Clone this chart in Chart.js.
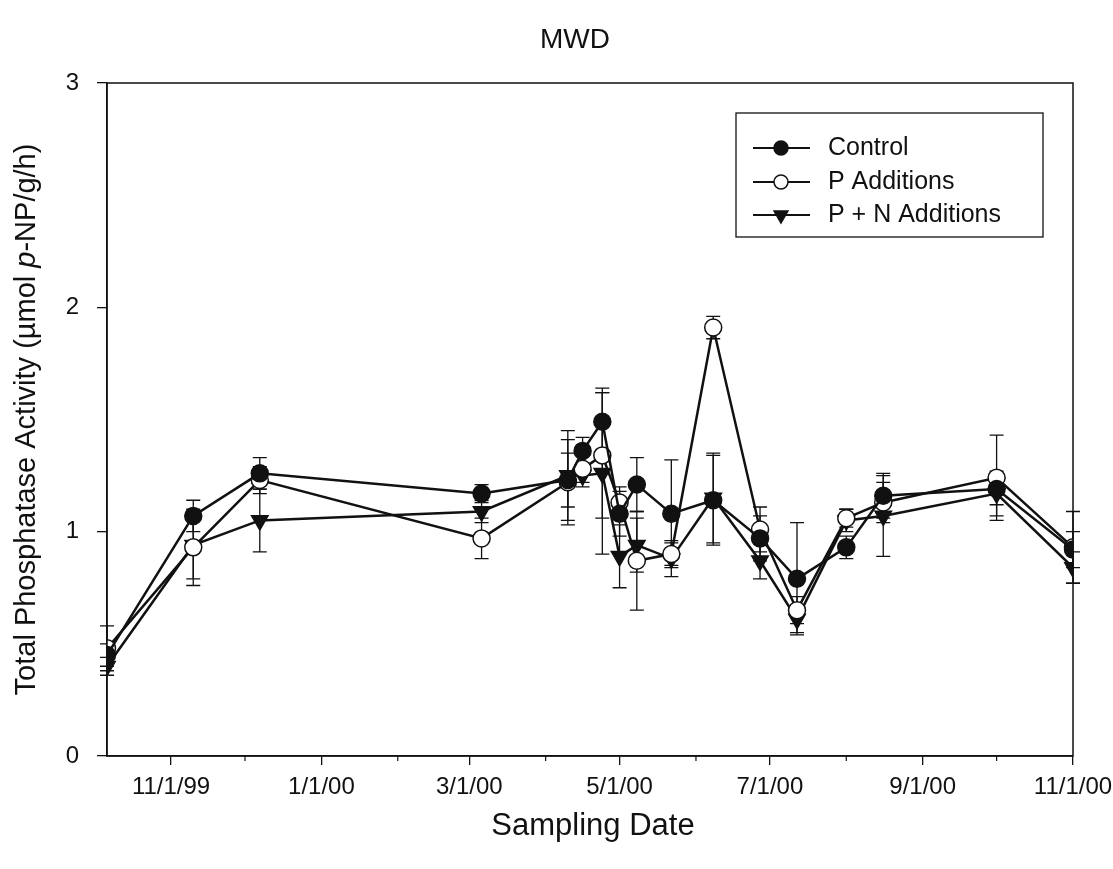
<!DOCTYPE html>
<html>
<head>
<meta charset="utf-8">
<script src="https://cdn.jsdelivr.net/npm/chart.js@4.4.0/dist/chart.umd.min.js"></script>
<style>
    html, body { margin: 0; padding: 0; background: #ffffff; }
    #contenedor { width: 1113px; height: 869px; }
</style>
</head>
<body>
<div id="contenedor"><canvas id="grafico" width="1113" height="869"></canvas></div>
<script>
// ================== DATOS ==================

const fechas = [
    "1999-10-06", "1999-11-10", "1999-12-07", "2000-03-06", "2000-04-10", "2000-04-16",
    "2000-04-24", "2000-05-01", "2000-05-08", "2000-05-22", "2000-06-08", "2000-06-27",
    "2000-07-12", "2000-08-01", "2000-08-16", "2000-10-01", "2000-11-01"
];

const control     = [0.45, 1.07, 1.26, 1.17, 1.23, 1.36, 1.49, 1.08, 1.21, 1.08, 1.14, 0.97, 0.79, 0.93, 1.16, 1.19, 0.92];
const pAdiciones  = [0.48, 0.93, 1.23, 0.97, 1.22, 1.28, 1.34, 1.13, 0.87, 0.90, 1.91, 1.01, 0.65, 1.06, 1.13, 1.24, 0.93];
const pnAdiciones = [0.40, 0.94, 1.05, 1.09, 1.25, 1.25, 1.26, 0.89, 0.94, 0.88, 1.15, 0.87, 0.61, 1.05, 1.07, 1.17, 0.84];

// errores estandar (barras)
const errControl = [0.05, 0.07, 0.07, 0.04, 0.12, 0.06, 0.15, 0.10, 0.12, 0.24, 0.20, 0.10, 0.25, 0.05, 0.10, 0.07, 0.08];
const errP       = [0.10, 0.17, 0.06, 0.09, 0.19, 0.06, 0.28, 0.07, 0.22, 0.05, 0.05, 0.10, 0.06, 0.04, 0.09, 0.19, 0.16];
const errPN      = [0.04, 0.15, 0.14, 0.05, 0.20, 0.05, 0.36, 0.14, 0.12, 0.08, 0.20, 0.08, 0.06, 0.05, 0.18, 0.10, 0.07];

const ticksX = ["1999-11-01", "2000-01-01", "2000-03-01", "2000-05-01", "2000-07-01", "2000-09-01", "2000-11-01"];
const ticksMenoresX = ["1999-12-01", "2000-02-01", "2000-04-01", "2000-06-01", "2000-08-01", "2000-10-01"];
const ticksY = [0, 1, 2, 3];

const series = ["Control", "P Additions", "P + N Additions"];

// ================== UTILIDADES ==================

const FUENTE = "'Liberation Sans', Arial, sans-serif";

function dia(s) {
    const [a, m, d] = s.split("-").map(Number);
    return Date.UTC(a, m - 1, d) / 86400000;
}

function etiquetaFecha(v) {
    const f = new Date(Math.round(v) * 86400000);
    return (f.getUTCMonth() + 1) + "/" + f.getUTCDate() + "/" + String(f.getUTCFullYear()).slice(2);
}

const puntos = arr => arr.map((v, i) => ({ x: dia(fechas[i]), y: v }));

// ================== PLUGINS ==================

const barrasError = {
    id: "barrasError",
    beforeDatasetsDraw(chart) {
        const { ctx, scales: { x, y } } = chart;
        const grupos = [[control, errControl], [pAdiciones, errP], [pnAdiciones, errPN]];
        ctx.save();
        ctx.strokeStyle = "#111";
        ctx.lineWidth = 1.3;
        grupos.forEach(([vals, errs]) => {
            vals.forEach((v, i) => {
                const px = x.getPixelForValue(dia(fechas[i]));
                const y1 = y.getPixelForValue(v + errs[i]);
                const y2 = y.getPixelForValue(v - errs[i]);
                ctx.beginPath();
                ctx.moveTo(px, y1); ctx.lineTo(px, y2);
                ctx.moveTo(px - 7, y1); ctx.lineTo(px + 7, y1);
                ctx.moveTo(px - 7, y2); ctx.lineTo(px + 7, y2);
                ctx.stroke();
            });
        });
        ctx.restore();
    }
};

const marcoYTextos = {
    id: "marcoYTextos",
    afterDraw(chart) {
        const { ctx, chartArea: a, scales: { x } } = chart;
        ctx.save();
        // marco
        ctx.strokeStyle = "#111";
        ctx.lineWidth = 1.5;
        ctx.strokeRect(a.left, a.top, a.right - a.left, a.bottom - a.top);

        // ticks menores eje x
        ctx.lineWidth = 1.2;
        ticksMenoresX.forEach(s => {
            const px = x.getPixelForValue(dia(s));
            ctx.beginPath();
            ctx.moveTo(px, a.bottom);
            ctx.lineTo(px, a.bottom + 5);
            ctx.stroke();
        });

        // titulo
        ctx.fillStyle = "#111";
        ctx.font = "28px " + FUENTE;
        ctx.textAlign = "center";
        ctx.textBaseline = "middle";
        ctx.fillText("MWD", 575, 40);

        // titulo eje x
        ctx.font = "31px " + FUENTE;
        ctx.fillText("Sampling Date", 593, 826);

        // titulo eje y con p en cursiva
        const partes = [
            ["Total Phosphatase Activity (\u00b5mol ", "29px " + FUENTE],
            ["p", "italic 29px " + FUENTE],
            ["-NP/g/h)", "29px " + FUENTE]
        ];
        let total = 0;
        partes.forEach(p => { ctx.font = p[1]; total += ctx.measureText(p[0]).width; });
        ctx.translate(27, (a.top + a.bottom) / 2);
        ctx.rotate(-Math.PI / 2);
        ctx.textAlign = "left";
        let cx = -total / 2;
        partes.forEach(p => {
            ctx.font = p[1];
            ctx.fillText(p[0], cx, 0);
            cx += ctx.measureText(p[0]).width;
        });
        ctx.restore();

        // leyenda
        ctx.save();
        ctx.strokeStyle = "#111";
        ctx.lineWidth = 1.3;
        ctx.strokeRect(736, 113, 307, 124);
        const filas = [148, 182, 215];
        const estilos = [
            { pointStyle: "circle", radius: 7, rotation: 0, borderWidth: 1.5, fill: "#111" },
            { pointStyle: "circle", radius: 7, rotation: 0, borderWidth: 1.5, fill: "#fff" },
            { pointStyle: "triangle", radius: 8, rotation: 180, borderWidth: 1.5, fill: "#111" }
        ];
        series.forEach((nombre, i) => {
            const yy = filas[i];
            ctx.strokeStyle = "#111";
            ctx.lineWidth = 2;
            ctx.beginPath();
            ctx.moveTo(753, yy); ctx.lineTo(810, yy);
            ctx.stroke();
            ctx.fillStyle = estilos[i].fill;
            ctx.lineWidth = 1.5;
            Chart.helpers.drawPoint(ctx, estilos[i], 781, yy);
            ctx.fillStyle = "#111";
            ctx.font = "25px " + FUENTE;
            ctx.textAlign = "left";
            ctx.textBaseline = "middle";
            ctx.fillText(nombre, 828, yy);
        });
        ctx.restore();
    }
};

// ================== GRAFICO ==================

const baseSerie = {
    borderColor: "#111",
    borderWidth: 2.5,
    pointBorderColor: "#111",
    pointBorderWidth: 1.5,
    pointRadius: 8.5,
    tension: 0,
    fill: false
};

new Chart(document.getElementById("grafico"), {
    type: "line",
    data: {
        datasets: [
            { ...baseSerie, label: series[0], data: puntos(control), pointStyle: "circle", pointBackgroundColor: "#111" },
            { ...baseSerie, label: series[1], data: puntos(pAdiciones), pointStyle: "circle", pointBackgroundColor: "#fff" },
            { ...baseSerie, label: series[2], data: puntos(pnAdiciones), pointStyle: "triangle", pointRotation: 180, pointRadius: 9.5, pointBackgroundColor: "#111" }
        ]
    },
    options: {
        responsive: false,
        animation: false,
        devicePixelRatio: 1,
        layout: { padding: { top: 83, right: 40, bottom: 0, left: 0 } },
        plugins: {
            legend: { display: false },
            title: { display: false },
            tooltip: { enabled: false }
        },
        scales: {
            x: {
                type: "linear",
                min: dia(fechas[0]),
                max: dia(fechas[fechas.length - 1]),
                afterBuildTicks: s => { s.ticks = ticksX.map(t => ({ value: dia(t) })); },
                afterFit: s => { s.height = 113; s.paddingLeft = 0; s.paddingRight = 0; },
                ticks: {
                    callback: v => etiquetaFecha(v),
                    autoSkip: false,
                    maxRotation: 0,
                    color: "#111",
                    padding: 8,
                    font: { family: FUENTE, size: 24 }
                },
                grid: { drawOnChartArea: false, drawTicks: true, tickLength: 9, color: "#111", lineWidth: 1.3 },
                border: { display: true, color: "#111", width: 1.5 }
            },
            y: {
                min: 0,
                max: 3,
                afterBuildTicks: s => { s.ticks = ticksY.map(v => ({ value: v })); },
                afterFit: s => { s.width = 107; s.paddingTop = 0; s.paddingBottom = 0; },
                ticks: {
                    color: "#111",
                    padding: 18,
                    font: { family: FUENTE, size: 24 }
                },
                grid: { drawOnChartArea: false, drawTicks: true, tickLength: 10, color: "#111", lineWidth: 1.3 },
                border: { display: true, color: "#111", width: 1.5 }
            }
        }
    },
    plugins: [barrasError, marcoYTextos]
});
</script>
</body>
</html>
